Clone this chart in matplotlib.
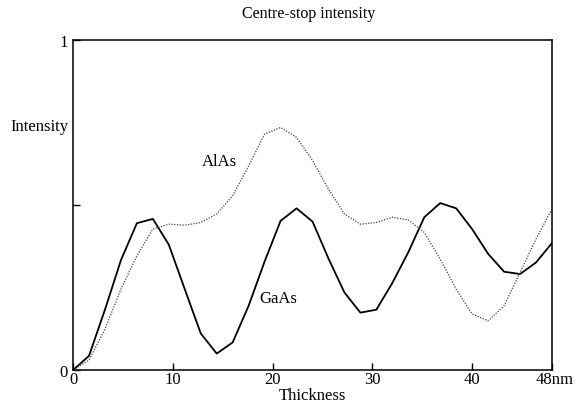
import numpy as np
import matplotlib
matplotlib.use("Agg")
import matplotlib.pyplot as plt
from matplotlib.transforms import ScaledTranslation

plt.rcParams['font.family'] = ['Liberation Serif', 'DejaVu Serif']

# thickness samples (nm)
thickness = [0, 1.6, 3.2, 4.8, 6.4, 8.0, 9.6, 11.2, 12.8, 14.4, 16.0, 17.6, 19.2, 20.8,
             22.4, 24.0, 25.6, 27.2, 28.8, 30.4, 32.0, 33.6, 35.2, 36.8, 38.4, 40.0,
             41.6, 43.2, 44.8, 46.4, 48.0]

gaas = [0, 0.043, 0.183, 0.333, 0.445, 0.458, 0.38, 0.245, 0.111, 0.05, 0.084, 0.195,
        0.329, 0.452, 0.49, 0.45, 0.338, 0.235, 0.174, 0.183, 0.264, 0.357, 0.463,
        0.506, 0.49, 0.427, 0.352, 0.298, 0.291, 0.326, 0.385]

alas = [0, 0.03, 0.124, 0.245, 0.346, 0.427, 0.442, 0.439, 0.447, 0.473, 0.528, 0.619,
        0.715, 0.735, 0.705, 0.635, 0.548, 0.473, 0.442, 0.447, 0.463, 0.455, 0.417,
        0.336, 0.245, 0.17, 0.149, 0.195, 0.296, 0.397, 0.488]

xticks = [0, 10, 20, 30, 40, 48]
xtick_labels = ['0', '10', '20', '30', '40', '48nm']

fig = plt.figure(figsize=(5.75, 4.06), dpi=100)
ax = fig.add_axes([0.127, 0.086, 0.833, 0.813])

ax.plot(thickness, gaas, color='black', lw=1.3)
ax.plot(thickness, alas, color='#444444', lw=0.9, ls=(0, (1, 1.2)))

ax.set_xlim(0, 48)
ax.set_ylim(0, 1)
ax.set_xticks(xticks)
ax.set_xticklabels(xtick_labels, fontsize=12)
ax.set_yticks([0, 0.5, 1])
ax.set_yticklabels(['0', '', '1'], fontsize=12)
ax.tick_params(direction='in', length=5, width=1)
ax.tick_params(axis='x', pad=1)
ax.tick_params(axis='y', pad=4)
for s in ax.spines.values():
    s.set_linewidth(1.1)

# nudge the last label a bit to the right
lab = ax.get_xticklabels()[-1]
lab.set_transform(lab.get_transform() + ScaledTranslation(2 / 72, 0, fig.dpi_scale_trans))

ax.text(-0.01, 0.74, 'Intensity', transform=ax.transAxes, ha='right', va='center', fontsize=12)
ax.text(14.7, 0.633, 'AlAs', ha='center', va='center', fontsize=12)
ax.text(20.6, 0.218, 'GaAs', ha='center', va='center', fontsize=12)

ax.set_xlabel('Thickness', fontsize=12, labelpad=0)
fig.text(0.537, 0.966, 'Centre-stop intensity', ha='center', va='center', fontsize=11.5)

fig.savefig('out.png', dpi=100)
